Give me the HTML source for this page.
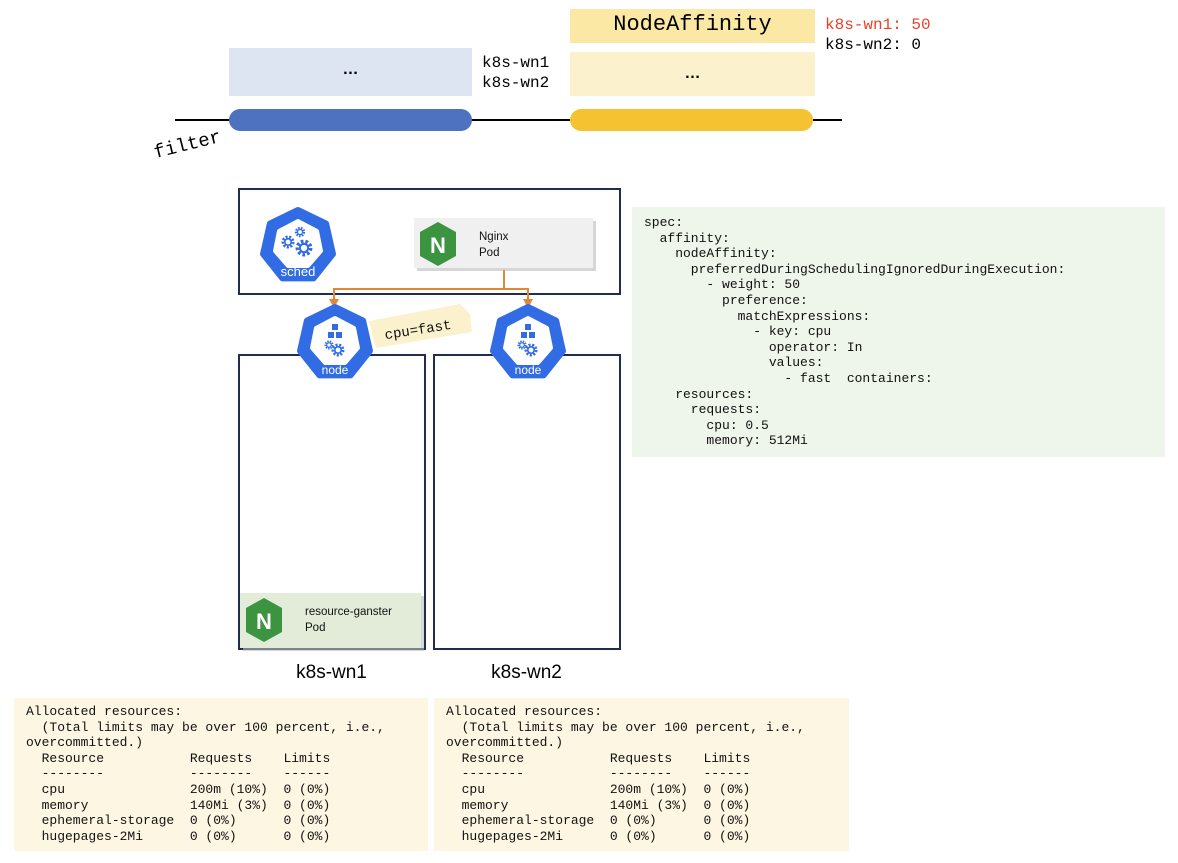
<!DOCTYPE html>
<html><head><meta charset="utf-8"><style>
body{margin:0;width:1178px;height:863px;background:#fff;position:relative;overflow:hidden;font-family:"Liberation Sans",sans-serif}
.a{position:absolute}
.mono{font-family:"Liberation Mono",monospace}
pre{margin:0;font-family:"Liberation Mono",monospace;font-size:13px;line-height:15.6px;color:#111}
</style></head><body>
<svg class="a" style="left:0;top:0" width="1178" height="863">
<defs>
<g id="hep"><polygon points="0,-36 28.1,-22.4 35,8 15.6,32.4 -15.6,32.4 -35,8 -28.1,-22.4" fill="#326ce5" stroke="#326ce5" stroke-width="6" stroke-linejoin="round"/></g>
<g id="gear"><circle r="5" fill="none" stroke="#326ce5" stroke-width="3" stroke-dasharray="2 1.5"/><circle r="3.2" fill="none" stroke="#326ce5" stroke-width="1.6"/></g>
</defs>
<line x1="175" y1="120" x2="842" y2="120" stroke="#000" stroke-width="2"/>
<rect x="229" y="48" width="243" height="48" fill="#dde4f2"/>
<rect x="229" y="109" width="243" height="22" rx="11" fill="#4e72c0"/>
<rect x="570" y="9" width="245" height="34" fill="#fae8a4"/>
<rect x="570" y="52" width="245" height="44" fill="#fcf1cd"/>
<rect x="570" y="109" width="243" height="22" rx="11" fill="#f5c232"/>
<rect x="239" y="189" width="381" height="105" fill="none" stroke="#1f2d4e" stroke-width="2"/>
<rect x="239" y="355" width="186" height="294" fill="none" stroke="#1f2d4e" stroke-width="2"/>
<rect x="434" y="355" width="186" height="294" fill="none" stroke="#1f2d4e" stroke-width="2"/>
<!-- sched icon -->
<g transform="translate(298,246)"><use href="#hep"/>
<polygon points="0,-25 19,-15 23,5 10,20 -10,20 -23,5 -19,-15" fill="#fff" stroke="#fff" stroke-width="4" stroke-linejoin="round"/>
<g transform="translate(-10,-4)"><use href="#gear"/></g><g transform="translate(2,-14) scale(.8)"><use href="#gear"/></g><g transform="translate(6,2) scale(1.3)"><use href="#gear"/></g>
<text x="0" y="30" fill="#fff" font-size="13" text-anchor="middle" font-family="Liberation Sans">sched</text></g>
<!-- nginx pod -->
<rect x="417" y="221" width="179" height="50" fill="#bbb" opacity=".6"/>
<rect x="414" y="218" width="179" height="50" fill="#f0f0f0"/>
<polygon points="438,222 456,232 456,256 438,266 420,256 420,232" fill="#3c9340"/>
<text x="438" y="253" fill="#fff" font-size="22" font-weight="bold" text-anchor="middle">N</text>
<text x="479" y="240" font-size="11.5" fill="#111">Nginx</text><text x="479" y="256" font-size="11.5" fill="#111">Pod</text>
<!-- orange connector -->
<polyline points="504,270 504,289 334,289 334,300" fill="none" stroke="#e0873a" stroke-width="2"/>
<polyline points="504,289 528,289 528,300" fill="none" stroke="#e0873a" stroke-width="2"/>
<polygon points="329,299 339,299 334,308" fill="#e0873a"/><polygon points="523,299 533,299 528,308" fill="#e0873a"/>
<!-- node icons -->
<g transform="translate(335,343)"><use href="#hep"/>
<polygon points="0,-25 19,-15 23,5 10,20 -10,20 -23,5 -19,-15" fill="#fff" stroke="#fff" stroke-width="4" stroke-linejoin="round"/>
<rect x="-3" y="-19" width="6" height="6" fill="#326ce5"/><rect x="-7" y="-11" width="6" height="6" fill="#326ce5"/><rect x="1" y="-11" width="6" height="6" fill="#326ce5"/>
<g transform="translate(-6,2) scale(.7)"><use href="#gear"/></g><g transform="translate(3,7)"><use href="#gear"/></g>
<text x="0" y="31" fill="#fff" font-size="12" text-anchor="middle">node</text></g>
<g transform="translate(528,343)"><use href="#hep"/>
<polygon points="0,-25 19,-15 23,5 10,20 -10,20 -23,5 -19,-15" fill="#fff" stroke="#fff" stroke-width="4" stroke-linejoin="round"/>
<rect x="-3" y="-19" width="6" height="6" fill="#326ce5"/><rect x="-7" y="-11" width="6" height="6" fill="#326ce5"/><rect x="1" y="-11" width="6" height="6" fill="#326ce5"/>
<g transform="translate(-6,2) scale(.7)"><use href="#gear"/></g><g transform="translate(3,7)"><use href="#gear"/></g>
<text x="0" y="31" fill="#fff" font-size="12" text-anchor="middle">node</text></g>
<!-- cpu=fast tag -->
<polygon points="369,321 460,304 470,314 472,332 376,348" fill="#fcf1cd"/>
<text x="418" y="334" font-size="14" font-family="Liberation Mono" text-anchor="middle" transform="rotate(-9 418 330)" fill="#111">cpu=fast</text>
<!-- resource pod -->
<rect x="243" y="596" width="181" height="55" fill="#bbb" opacity=".6"/>
<rect x="240" y="593" width="181" height="55" fill="#e2ecd8"/>
<polygon points="264,598 282,608 282,632 264,642 246,632 246,608" fill="#3c9340"/>
<text x="264" y="629" fill="#fff" font-size="22" font-weight="bold" text-anchor="middle">N</text>
<text x="305" y="615" font-size="11.5" fill="#111">resource-ganster</text><text x="305" y="631" font-size="11.5" fill="#111">Pod</text>
</svg>
<div class="a" style="left:229px;top:61px;width:243px;text-align:center;font-size:16px;font-weight:bold">…</div>
<div class="a" style="left:570px;top:65px;width:245px;text-align:center;font-size:16px;font-weight:bold">…</div>
<div class="a mono" style="left:570px;top:12px;width:245px;text-align:center;font-size:22px">NodeAffinity</div>
<div class="a mono" style="left:482px;top:53px;font-size:16px;line-height:20px">k8s-wn1<br>k8s-wn2</div>
<div class="a mono" style="left:825px;top:15px;font-size:16px;line-height:20px"><span style="color:#e8402a">k8s-wn1: 50</span><br>k8s-wn2: 0</div>
<div class="a mono" style="left:157px;top:142px;font-size:19px;transform:rotate(-14deg);transform-origin:left bottom">filter</div>
<div class="a" style="left:238px;top:662px;width:187px;text-align:center;font-size:19px">k8s-wn1</div>
<div class="a" style="left:433px;top:662px;width:187px;text-align:center;font-size:19px">k8s-wn2</div>
<div class="a" style="left:632px;top:207px;width:533px;height:250px;background:#eef5ea"></div>
<pre class="a" style="left:644px;top:215px">spec:
  affinity:
    nodeAffinity:
      preferredDuringSchedulingIgnoredDuringExecution:
        - weight: 50
          preference:
            matchExpressions:
              - key: cpu
                operator: In
                values:
                  - fast  containers:
    resources:
      requests:
        cpu: 0.5
        memory: 512Mi</pre>
<div class="a" style="left:14px;top:698px;width:414px;height:153px;background:#fdf6e2"></div>
<div class="a" style="left:434px;top:698px;width:415px;height:153px;background:#fdf6e2"></div>
<pre class="a" style="left:26px;top:704px">Allocated resources:
  (Total limits may be over 100 percent, i.e.,
overcommitted.)
  Resource           Requests    Limits
  --------           --------    ------
  cpu                200m (10%)  0 (0%)
  memory             140Mi (3%)  0 (0%)
  ephemeral-storage  0 (0%)      0 (0%)
  hugepages-2Mi      0 (0%)      0 (0%)</pre>
<pre class="a" style="left:446px;top:704px">Allocated resources:
  (Total limits may be over 100 percent, i.e.,
overcommitted.)
  Resource           Requests    Limits
  --------           --------    ------
  cpu                200m (10%)  0 (0%)
  memory             140Mi (3%)  0 (0%)
  ephemeral-storage  0 (0%)      0 (0%)
  hugepages-2Mi      0 (0%)      0 (0%)</pre>
</body></html>
